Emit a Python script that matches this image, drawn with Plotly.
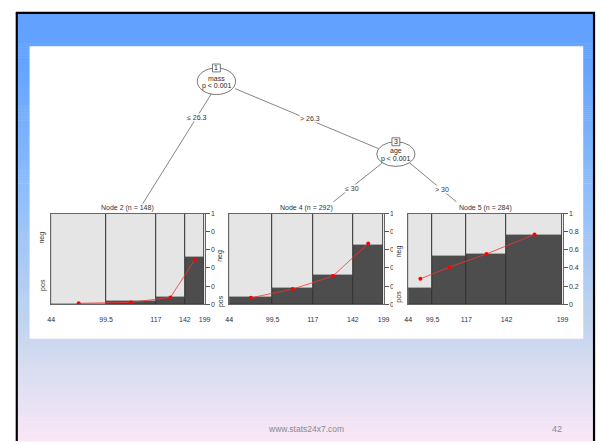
import plotly.graph_objects as go

W, H = 602, 444
FONT = "Liberation Sans, Arial, sans-serif"

# ---- data -------------------------------------------------------------
node_ids = [2, 4, 5]
node_n = [148, 292, 284]
bin_labels = ["44", "99.5", "117", "142", "199"]

# observations per glucose bin in each terminal node
node2_counts = [53, 48, 28, 19]
node4_counts = [82, 76, 76, 58]
node5_counts = [45, 62, 74, 103]

# observed share of "pos" per bin
node2_pos = [0.0, 0.025, 0.07, 0.51]
node4_pos = [0.076, 0.174, 0.315, 0.65]
node5_pos = [0.174, 0.52, 0.545, 0.76]

# fitted share of "pos" per bin
node2_fit = [0.01, 0.02, 0.075, 0.49]
node4_fit = [0.07, 0.167, 0.31, 0.67]
node5_fit = [0.28, 0.41, 0.555, 0.77]

levels = ["neg", "pos"]
split_ids = [1, 3]
split_vars = ["mass", "age"]
split_p = ["p < 0.001", "p < 0.001"]
edge_labels = ["\u2264 26.3", "> 26.3", "\u2264 30", "> 30"]
y_tick_vals = [0, 0.2, 0.4, 0.6, 0.8, 1]
y_tick_text = ["0", "0.2", "0.4", "0.6", "0.8", "1"]

footer_url = "www.stats24x7.com"
footer_page = "42"

counts = [node2_counts, node4_counts, node5_counts]
pos_share = [node2_pos, node4_pos, node5_pos]
fit_share = [node2_fit, node4_fit, node5_fit]


# ---- helpers: pixel -> paper -------------------------------------------
def px(x):
    return x / W


def py(y):
    return 1 - y / H


def lerp(c1, c2, t):
    return tuple(round(a + (b - a) * t) for a, b in zip(c1, c2))


shapes = []
annotations = []

# slide background: vertical gradient inside a black frame
stops = [(10, (98, 161, 255)), (60, (100, 163, 255)), (200, (145, 192, 252)),
         (320, (192, 211, 238)), (380, (220, 222, 242)), (444, (249, 230, 246))]
y = 10
step = 2
while y < 444:
    ym = y + step / 2
    for (ya, ca), (yb, cb) in zip(stops[:-1], stops[1:]):
        if ya <= ym <= yb:
            col = lerp(ca, cb, (ym - ya) / (yb - ya))
            break
    shapes.append(dict(type="rect", xref="paper", yref="paper", layer="below",
                       x0=px(14), x1=px(599.5), y0=py(y + step + 0.5), y1=py(y),
                       line=dict(width=0), fillcolor="rgb(%d,%d,%d)" % col))
    y += step

# black frame
for x0, y0, x1, y1 in [(13, 9, 13, 444), (12, 9, 601, 9), (600, 9, 600, 444)]:
    shapes.append(dict(type="line", xref="paper", yref="paper", layer="below",
                       x0=px(x0), y0=py(y0), x1=px(x1), y1=py(y1),
                       line=dict(color="black", width=2.2)))

# white chart area
shapes.append(dict(type="rect", xref="paper", yref="paper", layer="below",
                   x0=px(26), x1=px(589), y0=py(340), y1=py(43),
                   line=dict(width=0), fillcolor="white"))

# ---- tree: edges --------------------------------------------------------
edge_geom = [((211, 91), (141, 203), (196, 115)),
             ((235, 86), (381, 147), (311, 116.5)),
             ((384, 162), (335, 201), (354, 187)),
             ((412, 161), (460, 201), (445, 188))]
for (a, b, lab), text in zip(edge_geom, edge_labels):
    shapes.append(dict(type="line", xref="paper", yref="paper", layer="below",
                       x0=px(a[0]), y0=py(a[1]), x1=px(b[0]), y1=py(b[1]),
                       line=dict(color="#666666", width=0.8)))
    annotations.append(dict(x=px(lab[0]), y=py(lab[1]), xref="paper", yref="paper",
                            text=text, showarrow=False, bgcolor="white", borderpad=0,
                            font=dict(family=FONT, size=7, color="#333333"),
                            xanchor="center", yanchor="middle"))

# ---- tree: inner (split) nodes -------------------------------------------
inner_geom = [(216, 78.5, 19.5, 13.5), (398.5, 152.5, 19.5, 12.5)]
for (cx, cy, rx, ry), nid, var, pv in zip(inner_geom, split_ids, split_vars, split_p):
    shapes.append(dict(type="circle", xref="paper", yref="paper", layer="below",
                       x0=px(cx - rx), x1=px(cx + rx), y0=py(cy + ry), y1=py(cy - ry),
                       line=dict(color="#555555", width=0.8), fillcolor="white"))
    by = cy - ry
    shapes.append(dict(type="rect", xref="paper", yref="paper", layer="below",
                       x0=px(cx - 4), x1=px(cx + 4), y0=py(by + 4), y1=py(by - 4),
                       line=dict(color="#555555", width=0.8), fillcolor="white"))
    annotations.append(dict(x=px(cx), y=py(by), xref="paper", yref="paper",
                            text=str(nid), showarrow=False,
                            font=dict(family=FONT, size=7, color="#222222"),
                            xanchor="center", yanchor="middle"))
    annotations.append(dict(x=px(cx), y=py(cy - 3), xref="paper", yref="paper",
                            text=var, showarrow=False,
                            font=dict(family=FONT, size=7, color="#3a2a1a"),
                            xanchor="center", yanchor="middle"))
    annotations.append(dict(x=px(cx), y=py(cy + 5), xref="paper", yref="paper",
                            text=pv, showarrow=False,
                            font=dict(family=FONT, size=7, color="#222222"),
                            xanchor="center", yanchor="middle"))

# ---- terminal panels (spinograms) ----------------------------------------
panels = [(48, 204), (229, 386), (411, 568)]
P_TOP, P_BOT = 213, 305
# left level labels: at segment centres of the first bin, unless overridden
label_override = {2: (0.74, 0.217)}

fig = go.Figure()
layout_axes = {}
for i, (nid, n, cnt, pos, fit, (xl, xr)) in enumerate(
        zip(node_ids, node_n, counts, pos_share, fit_share, panels)):
    k = i + 2
    xa, ya = "x%d" % k, "y%d" % k
    edges = [0]
    for c in cnt:
        edges.append(edges[-1] + c)
    mids = [(a + b) / 2 for a, b in zip(edges[:-1], edges[1:])]
    neg = [1 - p for p in pos]

    fig.add_trace(go.Bar(x=mids, y=pos, base=[0] * len(pos), width=cnt,
                         marker=dict(color="#4d4d4d", line=dict(color="#333333", width=1)),
                         xaxis=xa, yaxis=ya, showlegend=False, hoverinfo="skip"))
    fig.add_trace(go.Bar(x=mids, y=neg, base=pos, width=cnt,
                         marker=dict(color="#e5e5e5", line=dict(color="#3a3a3a", width=1)),
                         xaxis=xa, yaxis=ya, showlegend=False, hoverinfo="skip"))
    fig.add_trace(go.Scatter(x=mids, y=fit, mode="lines+markers",
                             line=dict(color="#ff3030", width=0.8),
                             marker=dict(color="#ff0000", size=4),
                             xaxis=xa, yaxis=ya, showlegend=False, hoverinfo="skip"))

    tick_text = ["<span style='color:#222222'>%s</span>" % bin_labels[0]] + \
        ["<span style='color:#24375e'>%s</span>" % t for t in bin_labels[1:]]
    layout_axes["xaxis%d" % k] = dict(
        domain=[px(xl), px(xr)], anchor=ya, range=[0, n],
        tickmode="array", tickvals=edges, ticktext=tick_text,
        ticks="", ticklabelstandoff=8, showgrid=False, zeroline=False,
        showline=True, mirror=True, linecolor="#666666", linewidth=1,
        tickfont=dict(family=FONT, size=7), fixedrange=True)
    layout_axes["yaxis%d" % k] = dict(
        domain=[py(P_BOT), py(P_TOP)], anchor=xa, range=[0, 1], side="right",
        tickmode="array", tickvals=y_tick_vals, ticktext=y_tick_text,
        ticks="outside", ticklen=4, tickwidth=1, tickcolor="#555555",
        showgrid=False, zeroline=False,
        showline=True, mirror=True, linecolor="#666666", linewidth=1,
        tickfont=dict(family=FONT, size=7, color="#333333"), fixedrange=True)

    # panel title
    annotations.append(dict(x=px((xl + xr) / 2), y=py(207.5), xref="paper", yref="paper",
                            text="Node %d (n = %d)" % (nid, n), showarrow=False,
                            font=dict(family=FONT, size=7, color="#333333"),
                            xanchor="center", yanchor="middle"))
    # level labels on the left
    if nid in label_override:
        at_neg, at_pos = label_override[nid]
    else:
        at_neg, at_pos = (1 + pos[0]) / 2, pos[0] / 2
    for lev, at in zip(levels, (at_neg, at_pos)):
        yy = P_BOT - at * (P_BOT - P_TOP)
        annotations.append(dict(x=px(xl - 9), y=py(yy), xref="paper", yref="paper",
                                text=lev, showarrow=False, textangle=-90,
                                font=dict(family=FONT, size=7, color="#333333"),
                                xanchor="center", yanchor="middle"))

# the next panel's area hides the tail of the previous panel's axis labels
for x0, x1 in [(214.5, 227.5), (395.5, 409.5)]:
    shapes.append(dict(type="rect", xref="paper", yref="paper", layer="above",
                       x0=px(x0), x1=px(x1), y0=py(309), y1=py(206),
                       line=dict(width=0), fillcolor="white"))

# footer
annotations.append(dict(x=px(307), y=py(432), xref="paper", yref="paper",
                        text=footer_url, showarrow=False,
                        font=dict(family=FONT, size=8.5, color="#8a8a8a"),
                        xanchor="center", yanchor="middle"))
annotations.append(dict(x=px(562), y=py(432), xref="paper", yref="paper",
                        text=footer_page, showarrow=False,
                        font=dict(family=FONT, size=9, color="#8a8a8a"),
                        xanchor="center", yanchor="middle"))

fig.update_layout(
    width=W, height=H, margin=dict(l=0, r=0, t=0, b=0, pad=0),
    paper_bgcolor="white", plot_bgcolor="rgba(0,0,0,0)",
    barmode="overlay", bargap=0,
    xaxis=dict(visible=False, domain=[0, 1], range=[0, 1], fixedrange=True),
    yaxis=dict(visible=False, domain=[0, 1], range=[0, 1], fixedrange=True),
    shapes=shapes, annotations=annotations, showlegend=False,
    **layout_axes,
)

fig.write_html("out.html", config={"displayModeBar": False})
